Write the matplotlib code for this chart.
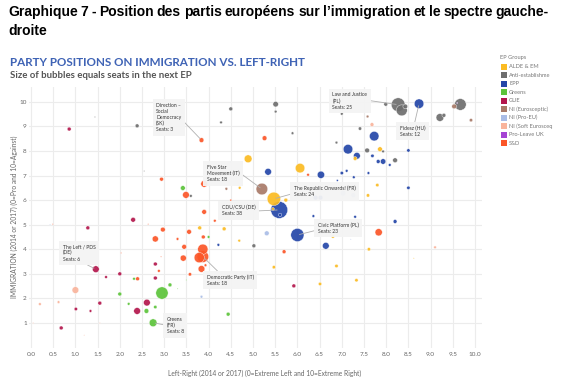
import matplotlib
matplotlib.use("Agg")
import matplotlib.pyplot as plt
from matplotlib.patches import Rectangle
import numpy as np

# ---------------- data ----------------
groups = ["ALDE & EM", "Anti-establishme", "EPP", "Greens", "GUE", "NI (Eurosceptic)",
          "NI (Pro-EU)", "NI (Soft Eurosceq", "Pro-Leave UK", "S&D"]
group_colors = ["#fbbb22", "#6e6e6e", "#2446a8", "#5cc43a", "#b3164c", "#a87a68",
                "#aabde6", "#f9b49c", "#a544d4", "#fb5628"]

x_ticks = [i * 0.5 for i in range(21)]
y_ticks = list(range(1, 11))

# S&D
sd_x = [3.84, 2.94, 5.26, 3.90, 3.49, 4.50, 3.90, 4.14, 2.97, 3.56, 2.80, 3.30, 3.88, 2.88, 2.40,
        6.24, 7.83, 5.70, 3.45, 3.87, 3.87, 3.79, 3.43, 3.84, 3.58, 3.93, 0.49, 2.64, 2.03, 2.93]
sd_y = [8.44, 6.85, 8.52, 6.66, 6.21, 6.00, 5.52, 5.16, 4.80, 4.71, 4.42, 4.42, 4.50, 3.12, 2.80,
        7.03, 4.69, 3.90, 4.10, 4.00, 3.70, 3.66, 3.64, 3.20, 2.98, 3.35, 5.02, 5.02, 3.85, 3.70]
sd_s = [3, 2, 3, 6, 6, 0.5, 3, 1, 3, 3, 5, 1, 2, 1, 2,
        1, 7, 2, 3, 14, 18, 14, 5, 6, 1.5, 1, 0, 0, 0, 0]

# GUE
gue_x = [0.86, 2.30, 1.28, 1.46, 1.69, 2.00, 2.80, 2.80, 1.55, 1.01, 1.34, 2.61, 2.39, 0.68, 5.92]
gue_y = [8.89, 5.20, 4.87, 3.19, 2.87, 3.00, 3.40, 2.83, 1.81, 1.57, 1.49, 1.83, 1.49, 0.80, 2.51]
gue_s = [2, 3, 2, 6, 1, 2, 2, 2, 2, 1.5, 1, 6, 6, 2, 2]

# Greens
gr_x = [3.42, 4.00, 2.32, 2.95, 3.13, 2.00, 2.20, 2.60, 2.80, 2.75, 4.44, 3.30, 3.50]
gr_y = [6.49, 4.50, 2.80, 2.22, 2.55, 2.18, 1.78, 1.49, 1.65, 1.01, 1.36, 2.40, 2.75]
gr_s = [3, 1, 1, 20, 2, 2, 1, 3, 1.5, 8, 2, 0, 0]

# EPP
epp_x = [5.34, 6.53, 5.59, 6.00, 7.14, 7.34, 7.73, 7.69, 7.82, 7.93, 8.08, 8.50, 8.50, 8.74,
         7.27, 7.11, 7.00, 7.60, 6.41, 6.52, 6.36, 7.30, 8.20, 5.61, 6.64, 4.22, 6.90]
epp_y = [7.15, 7.03, 5.60, 4.58, 8.07, 7.80, 8.60, 7.80, 7.57, 7.57, 7.43, 8.02, 6.50, 9.92,
         6.93, 7.19, 7.10, 7.10, 6.10, 6.10, 5.35, 5.32, 5.13, 5.40, 4.14, 4.18, 6.80]
epp_s = [6, 7, 38, 23, 12, 6, 12, 1.5, 2, 4, 1, 1.5, 1.5, 12,
         1, 1, 1.5, 1, 3, 3, 1, 1, 2, 1.5, 6, 1, 0.5]

# ALDE & EM
alde_x = [4.89, 6.06, 5.47, 5.74, 4.70, 3.80, 4.35, 5.45, 7.30, 7.86, 7.80, 7.59, 4.69, 6.80,
          7.61, 6.88, 7.33, 5.47, 6.51, 8.62]
alde_y = [7.68, 7.30, 6.05, 6.00, 6.50, 4.87, 4.83, 5.64, 7.69, 8.07, 6.61, 6.19, 4.35, 4.52,
          4.00, 3.32, 2.74, 3.27, 2.59, 3.63]
alde_s = [8, 12, 24, 2, 1, 2, 2, 1, 2, 3, 1.5, 1.5, 1, 1.5,
          1.5, 1.5, 1.5, 1.5, 1.5, 0]

# Anti-establishment
anti_x = [2.39, 4.50, 4.28, 3.60, 5.51, 5.51, 5.89, 6.88, 7.00, 7.57, 7.41, 8.20, 7.99, 8.27,
          8.35, 8.43, 9.21, 9.30, 9.67, 5.02, 7.93, 1.44, 2.55]
anti_y = [9.02, 9.71, 9.16, 6.17, 9.90, 9.60, 8.72, 8.34, 9.51, 8.02, 8.91, 7.62, 9.90, 9.88,
          9.65, 9.81, 9.36, 9.45, 9.89, 4.14, 7.98, 9.38, 7.18]
anti_s = [2, 2, 1, 1, 4, 1, 1, 1, 1, 3, 1.5, 3, 2, 25,
          16, 3, 8, 2, 18, 2, 1, 0, 0]

# NI (Eurosceptic)
nie_x = [5.20, 4.40, 7.58, 9.53, 9.91]
nie_y = [6.45, 6.46, 9.40, 9.81, 9.25]
nie_s = [18, 1, 1, 3, 1.5]

# NI (Pro-EU)
nip_x = [7.03, 7.26, 5.31, 3.84, 4.50, 0.43, 7.20, 6.95, 4.60]
nip_y = [6.28, 6.20, 4.65, 2.07, 7.55, 5.00, 4.40, 4.70, 5.90]
nip_s = [4, 3, 3, 1, 0.5, 0, 0, 0, 0]

# NI (Soft Eurosceptic)
nis_x = [1.00, 0.20, 0.62, 7.68, 9.10, 0.05, 1.20, 1.55]
nis_y = [2.34, 1.77, 1.85, 9.07, 4.08, 1.00, 0.50, 1.00]
nis_s = [6, 1, 1, 2, 1, 0, 0, 0]

# Pro-Leave UK
pl_x = [9.60]
pl_y = [9.95]
pl_s = [0]

series = [
    ("ALDE & EM", alde_x, alde_y, alde_s),
    ("Anti-establishme", anti_x, anti_y, anti_s),
    ("EPP", epp_x, epp_y, epp_s),
    ("Greens", gr_x, gr_y, gr_s),
    ("GUE", gue_x, gue_y, gue_s),
    ("NI (Eurosceptic)", nie_x, nie_y, nie_s),
    ("NI (Pro-EU)", nip_x, nip_y, nip_s),
    ("NI (Soft Eurosceq", nis_x, nis_y, nis_s),
    ("Pro-Leave UK", pl_x, pl_y, pl_s),
    ("S&D", sd_x, sd_y, sd_s),
]

annotations = [
    ("Direction –\nSocial\nDemocracy\n(SK)\nSeats: 3", (3.84, 8.44), (2.82, 9.95), (1.0, 0.45)),
    ("Five Star\nMovement (IT)\nSeats: 18", (5.20, 6.45), (3.96, 7.44), (1.0, 0.55)),
    ("CDU/CSU (DE)\nSeats: 38", (5.59, 5.60), (4.30, 5.81), (1.0, 0.45)),
    ("The Republic Onwards! (FR)\nSeats: 24", (5.47, 6.05), (5.92, 6.58), (0.0, 0.35)),
    ("Civic Platform (PL)\nSeats: 23", (6.00, 4.58), (6.46, 5.09), (0.0, 0.35)),
    ("Law and Justice\n(PL)\nSeats: 25", (8.27, 9.88), (6.79, 10.38), (1.0, 0.55)),
    ("Fidesz (HU)\nSeats: 12", (8.74, 9.92), (8.31, 9.03), (0.55, 1.0)),
    ("The Left / PDS\n(DE)\nSeats: 6", (1.46, 3.19), (0.71, 4.21), (0.55, 0.0)),
    ("Democratic Party (IT)\nSeats: 18", (3.87, 3.70), (3.96, 2.98), (0.3, 1.0)),
    ("Greens\n(FR)\nSeats: 8", (2.75, 1.01), (3.06, 1.26), (0.0, 0.5)),
]

# ---------------- figure ----------------
W, H = 579, 381
fig = plt.figure(figsize=(W / 100, H / 100), dpi=100)
fig.patch.set_facecolor("white")

# page title (justified first line)
line1 = "Graphique 7 - Position des partis européens sur l’immigration et le spectre gauche-"
tfont = dict(family="Liberation Sans", weight="bold", size=10.0, color="black")
words = line1.split(" ")
texts = [fig.text(0, 1 - 12 / H, w, va="center", ha="left", **tfont) for w in words]
fig.canvas.draw()
r = fig.canvas.get_renderer()
widths = [t.get_window_extent(r).width for t in texts]
x0, x1 = 8, 549
gap = (x1 - x0 - sum(widths)) / (len(words) - 1)
xx = x0
for t, w in zip(texts, widths):
    t.set_x(xx / W)
    xx += w + gap
fig.text(8 / W, 1 - 31 / H, "droite", va="center", ha="left", **tfont)

# chart titles
fig.text(10 / W, 1 - 62 / H, "PARTY POSITIONS ON IMMIGRATION VS. LEFT-RIGHT",
         family="Lato", weight="bold", size=8.4, color="#3f63b5", va="center", ha="left")
fig.text(10 / W, 1 - 76 / H, "Size of bubbles equals seats in the next EP",
         family="Lato", weight="bold", size=6.9, color="#555555", va="center", ha="left")

# axes
xmin, xmax, ymin, ymax = -0.05, 10.15, 0.0, 10.6
px0 = 31 - 0.05 * 44.4
px1 = 31 + 10.15 * 44.4
top_px, bot_px = 87.0, 347.6
ax = fig.add_axes([px0 / W, 1 - bot_px / H, (px1 - px0) / W, (bot_px - top_px) / H])
ax.set_xlim(xmin, xmax)
ax.set_ylim(ymin, ymax)
for sp in ax.spines.values():
    sp.set_visible(False)
ax.set_xticks(x_ticks)
ax.set_xticklabels([f"{v:.1f}" for v in x_ticks])
ax.set_yticks(y_ticks)
ax.set_yticklabels([str(v) for v in y_ticks])
ax.tick_params(length=0, labelsize=4.6, labelcolor="#666666", pad=3)
ax.tick_params(axis="y", pad=1.5)
ax.grid(True, color="#ececec", lw=0.8)
ax.set_axisbelow(True)
for lab in ax.get_xticklabels() + ax.get_yticklabels():
    lab.set_family("Lato")

ax.set_xlabel("Left-Right (2014 or 2017) (0=Extreme Left and 10=Extreme Right)",
              family="Lato", size=4.8, color="#666666")
ax.xaxis.set_label_coords(0.52, -0.085)
ax.set_ylabel("IMMIGRATION (2014 or 2017) (0=Pro and 10=Against)",
              family="Lato", size=4.8, color="#666666")
ax.yaxis.set_label_coords(-0.024, 0.5)

# bubbles
all_x, all_y, all_s, all_c = [], [], [], []
for name, xs, ys, ss in series:
    col = group_colors[groups.index(name)]
    for a, b, s in zip(xs, ys, ss):
        all_x.append(a); all_y.append(b); all_s.append(s); all_c.append(col)
order = np.argsort(-np.array(all_s), kind="stable")
ax.scatter(np.array(all_x)[order], np.array(all_y)[order],
           s=np.maximum(np.array(all_s)[order] * 3.9, 0.6),
           c=np.array(all_c)[order], alpha=0.92, edgecolors="white", linewidths=0.3, zorder=3)

# annotations
for txt, pt, tp, rel in annotations:
    ax.annotate(txt, xy=pt, xytext=tp, textcoords="data", ha="left", va="top",
                family="Lato", size=3.6, color="#333333", linespacing=1.25,
                bbox=dict(boxstyle="square,pad=0.7", fc="#f4f4f4", ec="none", alpha=0.95),
                arrowprops=dict(arrowstyle="-", color="#b0b0b0", lw=0.6,
                                relpos=rel, shrinkA=0, shrinkB=1.5),
                zorder=5)

# legend (manual)
fig.text(500 / W, 1 - 58 / H, "EP Groups", family="Lato", size=4.1, color="#777777",
         va="center", ha="left")
for i, (name, col) in enumerate(zip(groups, group_colors)):
    yc = 66.7 + i * 8.5
    fig.patches.append(Rectangle((500.5 / W, 1 - (yc + 3) / H), 6 / W, 6 / H,
                                 transform=fig.transFigure, fc=col, ec="none"))
    fig.text(509 / W, 1 - yc / H, name, family="Lato", size=4.1, color="#777777",
             va="center", ha="left")

fig.savefig("out.png", dpi=100)
